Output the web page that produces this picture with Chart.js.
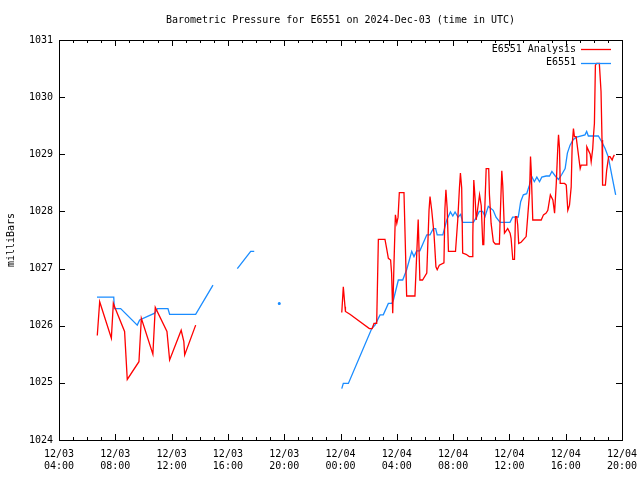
<!DOCTYPE html>
<html>
<head>
<meta charset="utf-8">
<script src="https://cdn.jsdelivr.net/npm/chart.js@4.4.1/dist/chart.umd.min.js"></script>
<style>
    body { margin: 0; background: #fff; }
    #wrap { width: 640px; height: 480px; }
</style>
</head>
<body>
<div id="wrap"><canvas id="pressChart" width="640" height="480"></canvas></div>
<script>
// hours since 12/03 00:00 UTC
let tickHours = [4, 8, 12, 16, 20, 24, 28, 32, 36, 40, 44];
let tickDates = ["12/03", "12/03", "12/03", "12/03", "12/03", "12/04", "12/04", "12/04", "12/04", "12/04", "12/04"];
let tickTimes = ["04:00", "08:00", "12:00", "16:00", "20:00", "00:00", "04:00", "08:00", "12:00", "16:00", "20:00"];
let yTicks = [1024, 1025, 1026, 1027, 1028, 1029, 1030, 1031];

let analysisHours = [
    6.72, 6.89, 7.72, 7.86, 8.00, 8.66, 8.85, 9.68, 9.85, 10.67, 10.84, 11.67, 11.86, 12.68, 12.87, 12.93, 13.71,
    18.0,
    24.09, 24.20, 24.32, 24.35, 24.67, 26.05, 26.25, 26.38, 26.57, 26.69, 27.16, 27.28, 27.40, 27.56, 27.63, 27.71,
    27.80, 27.90, 28.00, 28.09, 28.18, 28.51, 28.70, 29.29, 29.52, 29.64, 29.83, 30.13, 30.29, 30.36, 30.48, 30.64,
    30.78, 30.87, 31.02, 31.35, 31.42, 31.49, 31.58, 31.67, 32.17, 32.33, 32.45, 32.52, 32.61, 32.68, 32.92, 33.15,
    33.35, 33.40, 33.47, 33.57, 33.64, 33.88, 34.00, 34.11, 34.18, 34.23, 34.35, 34.53, 34.58, 34.70, 34.86, 35.00,
    35.29, 35.34, 35.46, 35.53, 35.65, 35.88, 36.05, 36.12, 36.24, 36.36, 36.43, 36.52, 36.59, 36.66, 36.83, 37.19,
    37.31, 37.43, 37.50, 37.55, 37.66, 38.26, 38.42, 38.61, 38.73, 38.91, 39.09, 39.21, 39.33, 39.44, 39.49, 39.56,
    39.61, 39.92, 40.04, 40.15, 40.27, 40.39, 40.46, 40.55, 40.62, 40.74, 41.03, 41.10, 41.46, 41.50, 41.74, 41.81,
    41.92, 41.97, 42.04, 42.11, 42.20, 42.39, 42.51, 42.58, 42.62, 42.82, 42.91, 43.05, 43.15, 43.30, 43.39, 43.46
];
let analysisValues = [
    1025.83, 1026.42, 1025.78, 1026.39, 1026.30, 1025.90, 1025.06, 1025.37, 1026.13, 1025.50, 1026.32, 1025.90, 1025.40, 1025.92, 1025.72, 1025.49, 1026.01,
    null,
    1026.23, 1026.68, 1026.33, 1026.25, 1026.20, 1025.95, 1025.95, 1026.04, 1026.04, 1027.51, 1027.51, 1027.35, 1027.18, 1027.15, 1026.92, 1026.22,
    1027.09, 1027.94, 1027.79, 1027.90, 1028.33, 1028.33, 1026.52, 1026.52, 1027.86, 1026.80, 1026.80, 1026.92, 1028.02, 1028.26, 1028.02, 1027.62,
    1027.03, 1026.98, 1027.06, 1027.10, 1028.05, 1028.38, 1028.05, 1027.30, 1027.30, 1027.85, 1028.41, 1028.67, 1028.41, 1027.27, 1027.25, 1027.21,
    1027.21, 1027.56, 1028.55, 1028.20, 1027.85, 1028.29, 1028.10, 1027.42, 1027.42, 1027.90, 1028.75, 1028.75, 1028.30, 1027.79, 1027.47, 1027.43,
    1027.43, 1027.85, 1028.71, 1028.45, 1027.62, 1027.70, 1027.62, 1027.53, 1027.16, 1027.16, 1027.91, 1027.91, 1027.76, 1027.44, 1027.46, 1027.56,
    1027.94, 1028.32, 1028.96, 1028.72, 1027.85, 1027.85, 1027.94, 1027.97, 1028.02, 1028.29, 1028.20, 1027.97, 1028.49, 1029.13, 1029.34, 1029.10,
    1028.49, 1028.49, 1028.46, 1028.02, 1028.11, 1028.43, 1029.16, 1029.45, 1029.31, 1029.31, 1028.75, 1028.81, 1028.81, 1029.13, 1029.00, 1028.87,
    1029.10, 1029.31, 1029.54, 1030.56, 1030.59, 1030.59, 1030.10, 1029.25, 1028.46, 1028.46, 1028.72, 1028.96, 1028.96, 1028.90, 1028.96, 1028.99
];

let stationHours = [
    6.70, 7.89, 7.93, 8.38, 9.56, 9.73, 10.80, 10.99, 11.74, 11.86, 13.71, 14.94,
    15.8,
    16.67, 17.62, 17.87,
    18.7,
    19.65,
    22.0,
    24.09, 24.20, 24.56, 26.22, 26.45, 26.81, 27.04, 27.40, 27.64, 27.76, 28.11, 28.42, 28.70, 29.06, 29.22, 29.41,
    29.64, 30.13, 30.36, 30.59, 30.76, 30.87, 31.27, 31.55, 31.81, 31.98, 32.14, 32.35, 32.54, 32.68, 33.44, 33.68,
    33.86, 34.10, 34.27, 34.50, 34.85, 35.05, 35.34, 36.04, 36.23, 36.63, 36.80, 36.99, 37.23, 37.42, 37.59, 37.77,
    37.95, 38.14, 38.30, 38.61, 38.85, 39.02, 39.26, 39.49, 39.73, 39.96, 40.12, 40.31, 40.54, 40.78, 41.37, 41.49,
    41.61, 42.32, 42.56, 42.80, 43.03, 43.27, 43.55
];
let stationValues = [
    1026.50, 1026.50, 1026.30, 1026.30, 1026.01, 1026.10, 1026.22, 1026.30, 1026.30, 1026.20, 1026.20, 1026.71,
    null,
    1027.00, 1027.30, 1027.30,
    null,
    1026.39,
    null,
    1024.90, 1024.99, 1024.99, 1025.95, 1026.01, 1026.19, 1026.19, 1026.39, 1026.39, 1026.45, 1026.80, 1026.80, 1026.98, 1027.30, 1027.21, 1027.31,
    1027.31, 1027.59, 1027.59, 1027.70, 1027.70, 1027.59, 1027.59, 1027.85, 1027.99, 1027.92, 1027.99, 1027.90, 1027.95, 1027.81, 1027.81, 1027.91,
    1028.00, 1028.00, 1027.91, 1028.09, 1028.02, 1027.90, 1027.81, 1027.81, 1027.90, 1027.90, 1028.17, 1028.29, 1028.31, 1028.46, 1028.61, 1028.52,
    1028.60, 1028.52, 1028.60, 1028.62, 1028.62, 1028.70, 1028.62, 1028.56, 1028.65, 1028.75, 1029.02, 1029.16, 1029.26, 1029.30, 1029.34, 1029.40,
    1029.32, 1029.32, 1029.22, 1029.10, 1028.95, 1028.64, 1028.29
];

const FONT = '10px "DejaVu Sans Mono", "Liberation Mono", monospace';
const RED = "#ff0000";
const BLUE = "#1a8cff";

function toPoints(xs, ys) {
    return xs.map((x, i) => ({x: x, y: ys[i]}));
}

// show a dot for a reading that has no neighbours
function loneRadius(ctx) {
    let d = ctx.dataset.data;
    let i = ctx.dataIndex;
    if (d[i].y === null) return 0;
    let prev = i > 0 ? d[i - 1].y : null;
    let next = i < d.length - 1 ? d[i + 1].y : null;
    return (prev === null && next === null) ? 0.9 : 0;
}

let framePlugin = {
    id: "frame",
    afterDatasetsDraw(chart) {
        let c = chart.ctx;
        let a = chart.chartArea;
        let xs = chart.scales.x;
        let ys = chart.scales.y;

        c.save();
        c.strokeStyle = "#000";
        c.lineWidth = 1;
        c.fillStyle = "#000";
        c.font = FONT;

        // border
        c.strokeRect(Math.round(a.left) + 0.5, Math.round(a.top) + 0.5,
            Math.round(a.right - a.left), Math.round(a.bottom - a.top));

        // x ticks every hour, longer every 4 hours
        c.beginPath();
        for (let h = xs.min; h <= xs.max; h++) {
            let px = Math.round(xs.getPixelForValue(h)) + 0.5;
            let len = (h % 4 === 0) ? 6 : 3;
            c.moveTo(px, a.bottom);
            c.lineTo(px, a.bottom - len);
            c.moveTo(px, a.top);
            c.lineTo(px, a.top + len);
        }
        // y ticks
        yTicks.forEach(v => {
            let py = Math.round(ys.getPixelForValue(v)) + 0.5;
            c.moveTo(a.left, py);
            c.lineTo(a.left + 6, py);
            c.moveTo(a.right, py);
            c.lineTo(a.right - 6, py);
        });
        c.stroke();

        // y labels
        c.textAlign = "right";
        c.textBaseline = "middle";
        yTicks.forEach(v => {
            c.fillText(String(v), a.left - 6, ys.getPixelForValue(v));
        });

        // x labels
        c.textAlign = "center";
        tickHours.forEach((h, i) => {
            let px = xs.getPixelForValue(h);
            c.fillText(tickDates[i], px, a.bottom + 14);
            c.fillText(tickTimes[i], px, a.bottom + 26);
        });

        // title
        c.fillText("Barometric Pressure for E6551 on 2024-Dec-03 (time in UTC)", (a.left + a.right) / 2, 20);

        // axis title
        c.save();
        c.translate(11, (a.top + a.bottom) / 2);
        c.rotate(-Math.PI / 2);
        c.fillText("milliBars", 0, 0);
        c.restore();

        // key, top right inside the plot
        c.textAlign = "right";
        let keyColors = [RED, BLUE];
        chart.data.datasets.forEach((ds, i) => {
            let y = a.top + 9 + i * 13.5;
            c.fillStyle = "#000";
            c.fillText(ds.label, a.right - 46, y);
            c.strokeStyle = keyColors[i];
            c.lineWidth = 1.3;
            c.beginPath();
            c.moveTo(a.right - 41, Math.round(y) + 0.5);
            c.lineTo(a.right - 11, Math.round(y) + 0.5);
            c.stroke();
        });

        c.restore();
    }
};

new Chart(document.getElementById("pressChart"), {
    type: "line",
    data: {
        datasets: [{
            label: "E6551 Analysis",
            data: toPoints(analysisHours, analysisValues),
            borderColor: RED,
            backgroundColor: RED,
            borderWidth: 1.3,
            pointRadius: loneRadius,
            tension: 0,
            spanGaps: false
        }, {
            label: "E6551",
            data: toPoints(stationHours, stationValues),
            borderColor: BLUE,
            backgroundColor: BLUE,
            borderWidth: 1.3,
            pointRadius: loneRadius,
            tension: 0,
            spanGaps: false
        }]
    },
    options: {
        responsive: false,
        animation: false,
        devicePixelRatio: 1,
        layout: {
            padding: {left: 59, right: 18, top: 40, bottom: 40}
        },
        scales: {
            x: {type: "linear", min: 4, max: 44, display: false},
            y: {type: "linear", min: 1024, max: 1031, display: false}
        },
        plugins: {
            legend: {display: false},
            title: {display: false},
            tooltip: {enabled: false}
        }
    },
    plugins: [framePlugin]
});
</script>
</body>
</html>
